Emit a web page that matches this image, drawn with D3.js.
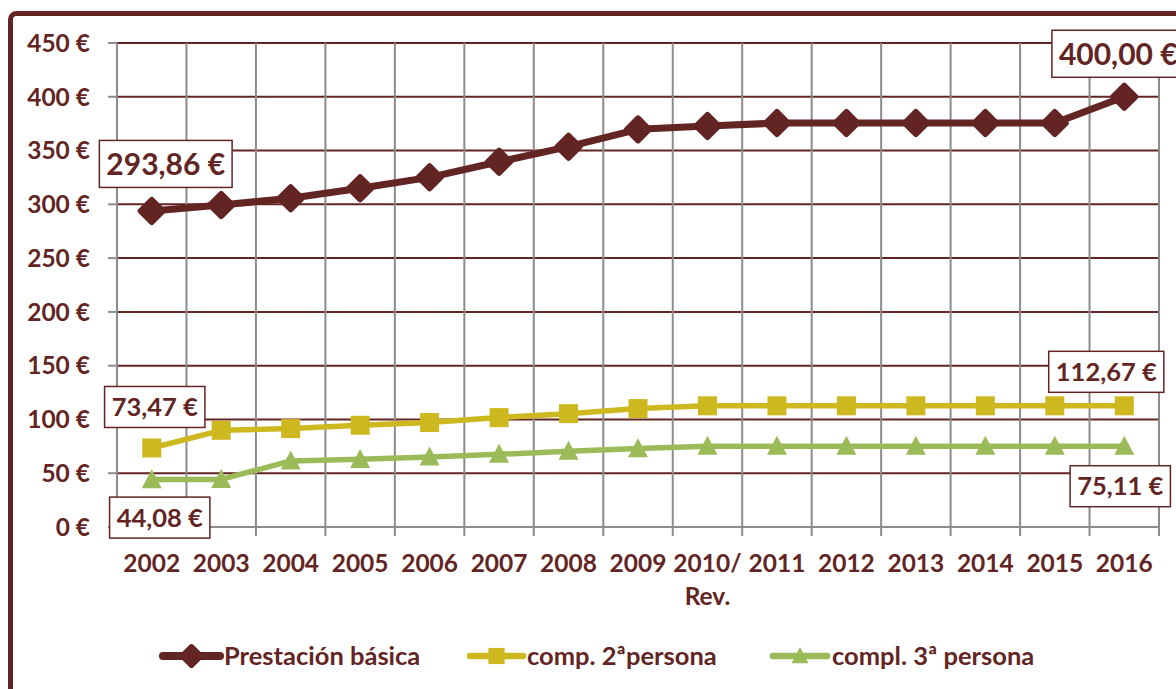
<!DOCTYPE html>
<html>
<head>
<meta charset="utf-8">
<script src="https://cdn.jsdelivr.net/npm/d3@7"></script>
<style>
  html, body { margin: 0; padding: 0; background: #fff; }
  svg { display: block; font-family: Lato, "Open Sans", sans-serif; font-weight: bold; }
</style>
</head>
<body>
<svg id="chart" width="1176" height="689"></svg>
<script>
// categories on the x axis ("2010/ Rev." wraps on two lines)
const categories = ['2002', '2003', '2004', '2005', '2006', '2007', '2008', '2009',
  '2010/ Rev.', '2011', '2012', '2013', '2014', '2015', '2016'];

// series values (euros)
const basica = [293.86, 299.4, 305.6, 314.9, 325.1, 339.6, 353.6, 369.7,
  372.8, 375.55, 375.55, 375.55, 375.55, 375.55, 400.00];
const comp2 = [73.47, 89.9, 91.5, 94.6, 97.1, 101.7, 105.4, 110.1,
  112.67, 112.67, 112.67, 112.67, 112.67, 112.67, 112.67];
const comp3 = [44.08, 44.2, 61.4, 62.9, 65.1, 67.6, 70.4, 72.9,
  75.11, 75.11, 75.11, 75.11, 75.11, 75.11, 75.11];

const yTicks = [0, 50, 100, 150, 200, 250, 300, 350, 400, 450];
const seriesNames = ['Prestación básica', 'comp. 2ªpersona', 'compl. 3ª persona'];

const DARK = '#632523';
const YELLOW = '#cdb81f';
const GREEN = '#9bbb59';
const GRID_GRAY = '#8c8c8c';

const svg = d3.select('#chart');

// outer frame of the chart
svg.append('rect')
  .attr('x', 10.5).attr('y', 13.5)
  .attr('width', 1300).attr('height', 800)
  .attr('rx', 6)
  .attr('fill', 'none')
  .attr('stroke', DARK)
  .attr('stroke-width', 5);

const plot = { left: 117, right: 1159, top: 43, bottom: 527 };

const x = d3.scaleBand().domain(categories).range([plot.left, plot.right]).padding(0);
const y = d3.scaleLinear().domain([0, 450]).range([plot.bottom, plot.top]);
const cx = c => x(c) + x.bandwidth() / 2;

const g = svg.append('g');

// horizontal gridlines (dark red)
g.selectAll('.hgrid').data(yTicks.filter(t => t > 0)).enter().append('line')
  .attr('x1', plot.left).attr('x2', plot.right)
  .attr('y1', d => y(d)).attr('y2', d => y(d))
  .attr('stroke', DARK).attr('stroke-width', 2);

// vertical gridlines (gray) at band edges, with small ticks below the axis
const edges = categories.map(c => x(c)).concat([plot.right]);
g.selectAll('.vgrid').data(edges.slice(1)).enter().append('line')
  .attr('x1', d => d).attr('x2', d => d)
  .attr('y1', plot.top).attr('y2', plot.bottom + 9)
  .attr('stroke', GRID_GRAY).attr('stroke-width', 2);

// y axis line and ticks
g.append('line')
  .attr('x1', plot.left).attr('x2', plot.left)
  .attr('y1', plot.top).attr('y2', plot.bottom + 9)
  .attr('stroke', GRID_GRAY).attr('stroke-width', 2);
g.selectAll('.ytick').data(yTicks).enter().append('line')
  .attr('x1', plot.left - 9).attr('x2', plot.left)
  .attr('y1', d => y(d)).attr('y2', d => y(d))
  .attr('stroke', GRID_GRAY).attr('stroke-width', 2);

// x axis line
g.append('line')
  .attr('x1', plot.left).attr('x2', plot.right)
  .attr('y1', plot.bottom).attr('y2', plot.bottom)
  .attr('stroke', GRID_GRAY).attr('stroke-width', 2);

// y tick labels
g.selectAll('.ylab').data(yTicks).enter().append('text')
  .attr('x', 90).attr('y', d => y(d))
  .attr('dy', '0.36em')
  .attr('text-anchor', 'end')
  .attr('fill', DARK)
  .style('font-size', '24.5px')
  .text(d => d + ' €');

// x tick labels
const xl = g.selectAll('.xlab').data(categories).enter().append('text')
  .attr('x', d => cx(d)).attr('y', 572)
  .attr('text-anchor', 'middle')
  .attr('fill', DARK)
  .style('font-size', '24.5px');
xl.each(function (d) {
  const parts = d.split(' ');
  parts.forEach((p, i) => {
    d3.select(this).append('tspan')
      .attr('x', cx(d)).attr('dy', i === 0 ? 0 : 33)
      .text(p);
  });
});

// lines
const series = [
  { name: seriesNames[0], values: basica, color: DARK, width: 7, marker: 'diamond' },
  { name: seriesNames[1], values: comp2, color: YELLOW, width: 5.5, marker: 'square' },
  { name: seriesNames[2], values: comp3, color: GREEN, width: 5.5, marker: 'triangle' }
];

const line = d3.line()
  .x((d, i) => cx(categories[i]))
  .y(d => y(d));

function drawMarker(sel, type, color, scale) {
  const s = scale || 1;
  if (type === 'diamond') {
    sel.append('rect')
      .attr('x', -10 * s).attr('y', -10 * s)
      .attr('width', 20 * s).attr('height', 20 * s)
      .attr('rx', 2)
      .attr('transform', 'rotate(45)')
      .attr('fill', color).attr('stroke', color).attr('stroke-width', 1.5);
  } else if (type === 'square') {
    sel.append('rect')
      .attr('x', -9.5 * s).attr('y', -9.5 * s)
      .attr('width', 19 * s).attr('height', 19 * s)
      .attr('fill', color);
  } else {
    const w = 10 * s, h = 19 * s;
    sel.append('path')
      .attr('d', `M0,${-h * 0.55}L${w},${h * 0.45}L${-w},${h * 0.45}Z`)
      .attr('fill', color);
  }
}

// draw from back to front: green, yellow, dark red
series.slice().reverse().forEach(s => {
  g.append('path')
    .datum(s.values)
    .attr('d', line)
    .attr('fill', 'none')
    .attr('stroke', s.color)
    .attr('stroke-width', s.width)
    .attr('stroke-linejoin', 'round');
  g.selectAll(null).data(s.values).enter().append('g')
    .attr('transform', (d, i) => `translate(${cx(categories[i])},${y(d)})`)
    .each(function () { drawMarker(d3.select(this), s.marker, s.color); });
});

// data labels (first and last point of each series)
const fmt = v => v.toFixed(2).replace('.', ',') + ' €';
const labels = [
  { values: basica, idx: 0, dx: 14, dy: -47, size: 30 },
  { values: basica, idx: 14, dx: -6, dy: -43, size: 30 },
  { values: comp2, idx: 0, dx: 3, dy: -41, size: 25.5 },
  { values: comp2, idx: 14, dx: -18, dy: -34, size: 25.5 },
  { values: comp3, idx: 0, dx: 8, dy: 38, size: 25.5 },
  { values: comp3, idx: 14, dx: -4, dy: 40, size: 25.5 }
];
labels.forEach(l => {
  const v = l.values[l.idx];
  const px = cx(categories[l.idx]) + l.dx;
  const py = y(v) + l.dy;
  const lg = svg.append('g').attr('transform', `translate(${px},${py})`);
  const box = lg.append('rect');
  const t = lg.append('text')
    .attr('text-anchor', 'middle')
    .attr('dy', '0.36em')
    .attr('fill', DARK)
    .style('font-size', l.size + 'px')
    .text(fmt(v));
  const bb = t.node().getBBox();
  const padX = 7, h = l.size >= 28 ? 47 : 41;
  box.attr('x', -bb.width / 2 - padX).attr('y', -h / 2)
    .attr('width', bb.width + padX * 2).attr('height', h)
    .attr('fill', '#fff')
    .attr('stroke', DARK).attr('stroke-width', 1.5);
});

// legend
const legendItems = [
  { s: series[0], x0: 163, x1: 220, tx: 224 },
  { s: series[1], x0: 470, x1: 523, tx: 527 },
  { s: series[2], x0: 773, x1: 827, tx: 832 }
];
const ly = 656;
legendItems.forEach(it => {
  const lgd = svg.append('g');
  lgd.append('line')
    .attr('x1', it.x0).attr('x2', it.x1)
    .attr('y1', ly).attr('y2', ly)
    .attr('stroke', it.s.color)
    .attr('stroke-width', it.s.width + 1)
    .attr('stroke-linecap', 'round');
  const m = lgd.append('g').attr('transform', `translate(${(it.x0 + it.x1) / 2},${ly})`);
  drawMarker(m, it.s.marker, it.s.color, 0.85);
  lgd.append('text')
    .attr('x', it.tx).attr('y', ly)
    .attr('dy', '0.36em')
    .attr('fill', DARK)
    .style('font-size', '25.5px')
    .text(it.s.name);
});
</script>
</body>
</html>
